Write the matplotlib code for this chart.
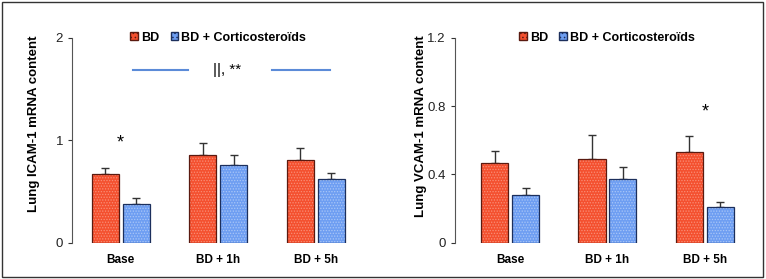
import matplotlib.pyplot as plt
import matplotlib.patches as mpatches
import numpy as np

groups = ["Base", "BD + 1h", "BD + 5h"]

icam_bd = [0.673, 0.859, 0.81]
icam_bd_err = [0.053, 0.111, 0.117]
icam_cs = [0.375, 0.758, 0.618]
icam_cs_err = [0.065, 0.095, 0.065]

vcam_bd = [0.465, 0.488, 0.533]
vcam_bd_err = [0.074, 0.142, 0.09]
vcam_cs = [0.281, 0.371, 0.207]
vcam_cs_err = [0.037, 0.074, 0.029]

RED = "#f4502f"
BLUE = "#6e9ef2"
RED_EDGE = "#5a1a10"
BLUE_EDGE = "#1c2f5c"
LINE_BLUE = "#5b8bd8"

plt.rcParams["font.family"] = ["Liberation Sans", "DejaVu Sans"]
plt.rcParams["hatch.linewidth"] = 0.6

fig = plt.figure(figsize=(7.66, 2.79), dpi=100)
ax1 = fig.add_axes([72 / 766, 36.3 / 279, 292.5 / 766, 205 / 279])
ax2 = fig.add_axes([454.7 / 766, 36.3 / 279, 298.7 / 766, 205 / 279])


def draw_bars(ax, bd, bd_err, cs, cs_err):
    x = np.arange(len(groups))
    w = 0.278
    off = 0.159
    for vals, errs, pos, fc, hc, ec in [
        (bd, bd_err, x - off, RED, "#f98e76", RED_EDGE),
        (cs, cs_err, x + off, BLUE, "#a9c6f7", BLUE_EDGE),
    ]:
        ax.bar(pos, vals, w, color=fc, hatch="......", edgecolor=hc, linewidth=0, zorder=2)
        ax.bar(pos, vals, w, fill=False, edgecolor=ec, linewidth=0.9, zorder=3)
        ax.errorbar(pos, vals, yerr=[np.zeros(len(vals)), errs], fmt="none",
                    ecolor="#333333", elinewidth=1.0, capsize=3, capthick=1.0, zorder=1)
    ax.set_xticks(x)
    ax.set_xticklabels(groups, fontweight="bold", fontsize=8.5)
    ax.tick_params(axis="x", length=0, pad=8)
    ax.tick_params(axis="y", direction="out", length=3, labelsize=9.5,
                   colors="#333333", labelcolor="#222222")
    for s in ["top", "right", "bottom"]:
        ax.spines[s].set_visible(False)
    ax.spines["left"].set_color("#555555")
    handles = [mpatches.Patch(facecolor=RED, edgecolor=RED_EDGE, hatch="....", label="BD"),
               mpatches.Patch(facecolor=BLUE, edgecolor=BLUE_EDGE, hatch="....", label="BD + Corticosteroïds")]
    return handles


h = draw_bars(ax1, icam_bd, icam_bd_err, icam_cs, icam_cs_err)
ax1.set_xlim(-0.5, 2.5)
ax1.set_ylim(0, 2)
ax1.set_yticks([0, 1, 2])
ax1.set_ylabel("Lung ICAM-1 mRNA content", fontweight="bold", fontsize=9.5)
ax1.yaxis.set_label_coords(-0.111, 0.58)
ax1.legend(handles=h, ncol=2, loc="center", bbox_to_anchor=(0.5, 1.0), frameon=False,
           prop={"weight": "bold", "size": 9}, handlelength=0.6, handleheight=0.6,
           handletextpad=0.25, columnspacing=0.9)
ax1.text(0, 0.97, "*", ha="center", va="center", fontsize=13)
ax1.plot([0.126, 0.687], [1.685, 1.685], color=LINE_BLUE, lw=1.5)
ax1.plot([1.548, 2.146], [1.685, 1.685], color=LINE_BLUE, lw=1.5)
ax1.text(1.09, 1.685, "||, **", ha="center", va="center", fontsize=11)

h = draw_bars(ax2, vcam_bd, vcam_bd_err, vcam_cs, vcam_cs_err)
ax2.set_xlim(-0.57, 2.5)
ax2.set_ylim(0, 1.2)
ax2.set_yticks([0, 0.4, 0.8, 1.2])
ax2.set_yticklabels(["0", "0.4", "0.8", "1.2"])
ax2.set_ylabel("Lung VCAM-1 mRNA content", fontweight="bold", fontsize=9.5)
ax2.yaxis.set_label_coords(-0.093, 0.57)
ax2.legend(handles=h, ncol=2, loc="center", bbox_to_anchor=(0.51, 1.0), frameon=False,
           prop={"weight": "bold", "size": 9}, handlelength=0.6, handleheight=0.6,
           handletextpad=0.25, columnspacing=0.9)
ax2.text(2, 0.765, "*", ha="center", va="center", fontsize=13)

fig.patches.append(mpatches.Rectangle((2 / 766, 2 / 279), 761 / 766, 275 / 279,
                                      transform=fig.transFigure, fill=False,
                                      edgecolor="#333333", linewidth=1.0))

fig.savefig("out.png", dpi=100)
